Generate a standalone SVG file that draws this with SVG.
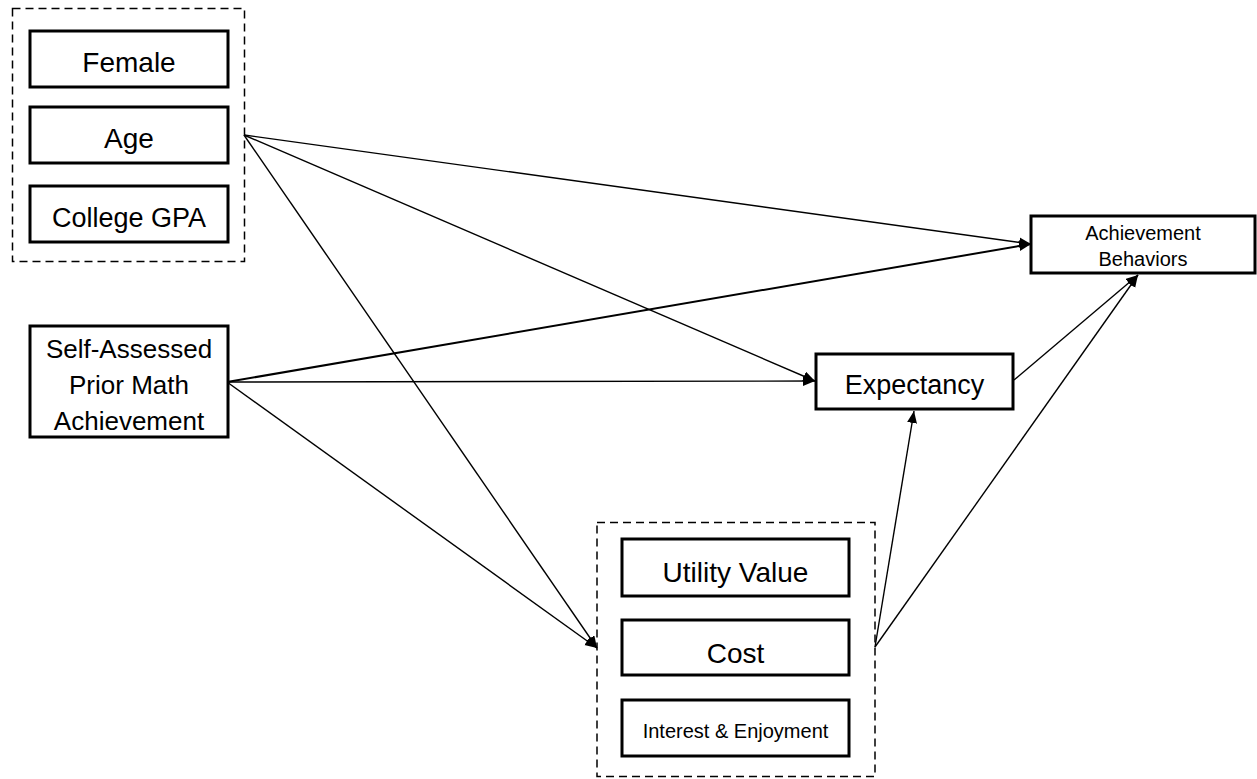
<svg xmlns="http://www.w3.org/2000/svg" width="1257" height="779" viewBox="0 0 1257 779">
<style>
.box{fill:#fff;stroke:#000;stroke-width:3}
.grp{fill:none;stroke:#000;stroke-width:1.5;stroke-dasharray:8,5}
text{font-family:"Liberation Sans",Arial,sans-serif;fill:#000;text-anchor:middle}
.c{stroke:#000;stroke-width:1.4;fill:none;marker-end:url(#ah)}
</style>
<defs>
<marker id="ah" markerUnits="userSpaceOnUse" markerWidth="13" markerHeight="11" refX="12" refY="5" orient="auto">
<path d="M0,0 L12,5 L0,10 z" fill="#000"/>
</marker>
</defs>
<rect width="1257" height="779" fill="#fff"/>
<g id="connectors">
<line class="c" x1="244" y1="135" x2="1031" y2="244"/>
<line class="c" x1="244" y1="135" x2="815" y2="381"/>
<line class="c" x1="244" y1="135" x2="597" y2="648"/>
<line class="c" x1="227" y1="382" x2="1031" y2="244" style="stroke-width:2"/>
<line class="c" x1="227" y1="382" x2="815" y2="381"/>
<line class="c" x1="227" y1="382" x2="597" y2="648"/>
<line class="c" x1="875" y1="647" x2="914" y2="411"/>
<line class="c" x1="875" y1="647" x2="1138" y2="275"/>
<line class="c" x1="1014" y1="380" x2="1138" y2="275"/>
</g>
<g id="demographics">
<rect class="grp" x="12.5" y="8.5" width="232" height="253"/>
<g id="female"><rect class="box" x="30" y="31" width="198" height="56"/><text x="129" y="72" font-size="28">Female</text></g>
<g id="age"><rect class="box" x="30" y="107" width="198" height="56"/><text x="129" y="148" font-size="28">Age</text></g>
<g id="gpa"><rect class="box" x="30" y="186" width="198" height="56"/><text x="129" y="227" font-size="27">College GPA</text></g>
</g>
<g id="prior">
<rect class="box" x="30" y="326" width="198" height="111"/>
<text x="129" y="358" font-size="26">Self-Assessed</text>
<text x="129" y="394" font-size="26">Prior Math</text>
<text x="129" y="430" font-size="26">Achievement</text>
</g>
<g id="values">
<rect class="grp" x="597" y="522.5" width="278" height="254"/>
<g id="utility"><rect class="box" x="622" y="539" width="227" height="57"/><text x="735.5" y="582" font-size="28">Utility Value</text></g>
<g id="cost"><rect class="box" x="622" y="620" width="227" height="55"/><text x="735.5" y="663" font-size="28">Cost</text></g>
<g id="interest"><rect class="box" x="622" y="700" width="227" height="56"/><text x="735.5" y="738" font-size="20">Interest &amp; Enjoyment</text></g>
</g>
<g id="expectancy">
<rect class="box" x="816" y="354" width="197" height="55"/>
<text x="914.5" y="394" font-size="27">Expectancy</text>
</g>
<g id="achievement">
<rect class="box" x="1031" y="216" width="224" height="57"/>
<text x="1143" y="240" font-size="20">Achievement</text>
<text x="1143" y="266" font-size="20">Behaviors</text>
</g>
</svg>
